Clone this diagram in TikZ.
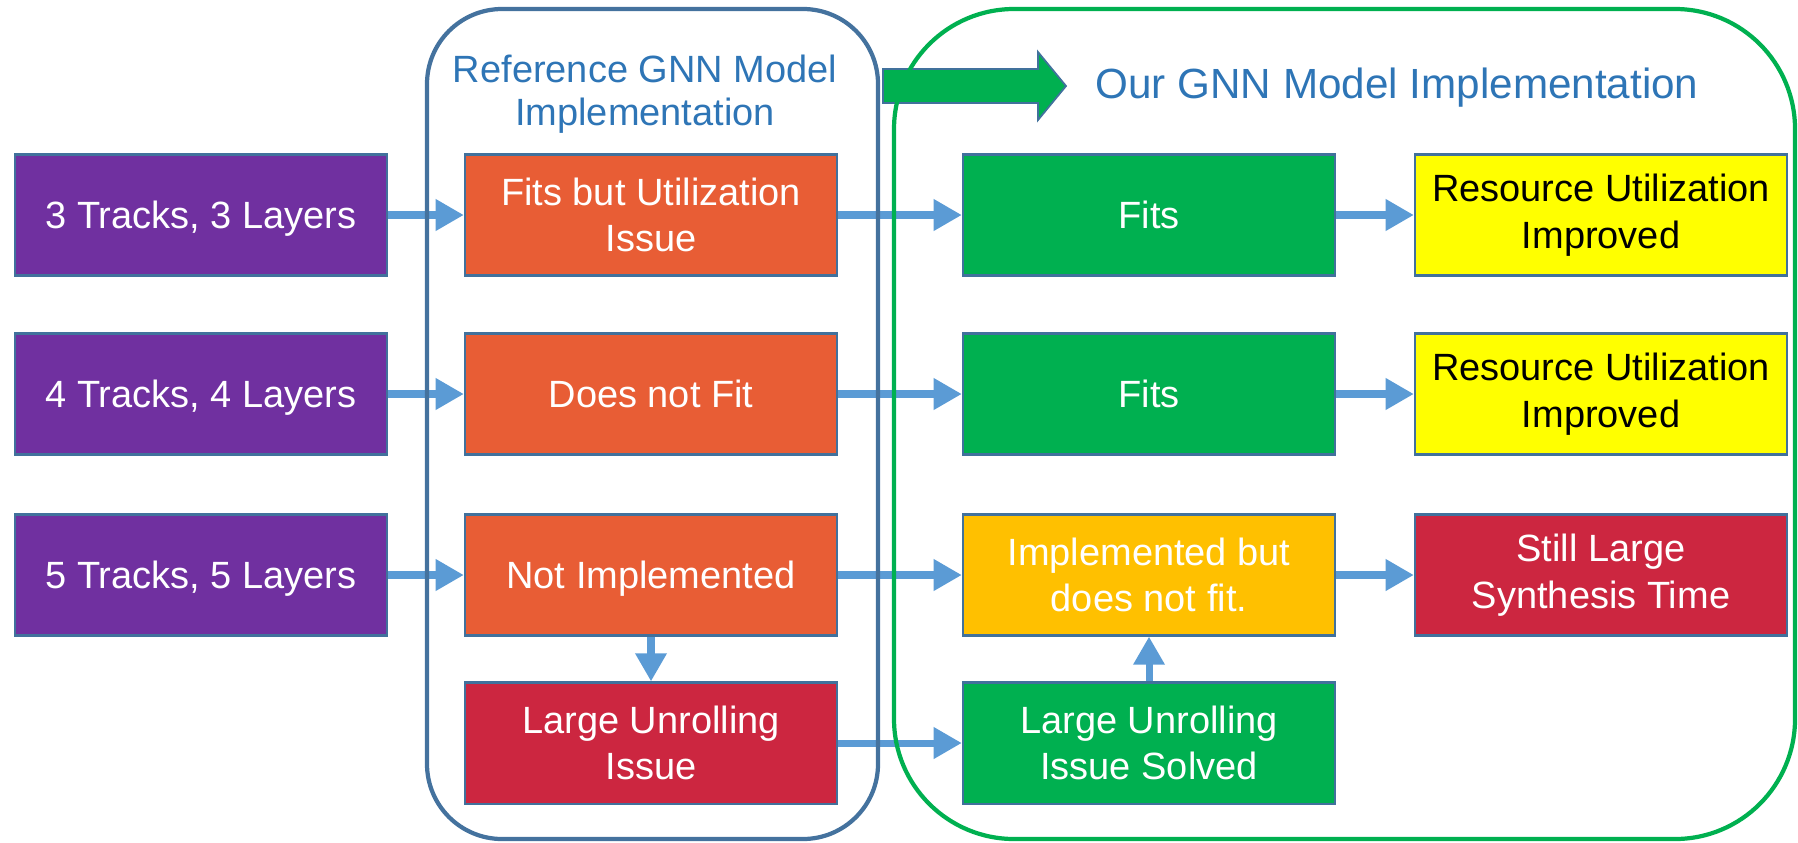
\documentclass[tikz,border=0pt]{standalone}
\usepackage{fontspec}
\setmainfont{Liberation Sans}
\usetikzlibrary{arrows.meta,positioning}
\definecolor{purp}{HTML}{7030A0}
\definecolor{orng}{HTML}{E85D35}
\definecolor{grn}{HTML}{00B050}
\definecolor{amber}{HTML}{FFC000}
\definecolor{yel}{HTML}{FFFF00}
\definecolor{crim}{HTML}{CC2640}
\definecolor{boxline}{HTML}{41719C}
\definecolor{flowblue}{HTML}{5B9BD5}
\definecolor{refblue}{HTML}{44729E}
\definecolor{titleblue}{HTML}{2E75B6}

\begin{document}
\begin{tikzpicture}[x=0.01cm, y=-0.01cm,
    every node/.style={draw=boxline, line width=0.6pt, minimum width=3.72cm, minimum height=1.21cm, inner sep=0pt,
        align=center, text=white, font=\fontsize{10.8}{13.2}\selectfont},
    oneline/.style={text depth=0pt},
    flow/.style={draw=flowblue, line width=2pt, -{Triangle[length=8pt, width=8.5pt]}},
    title/.style={draw=none, text=titleblue, minimum width=0pt, minimum height=0pt}]
    \useasboundingbox (0,0) rectangle (1798,842);

    \node[fill=purp, oneline] (t3) at (201,215) {3 Tracks, 3 Layers};
    \node[fill=purp, oneline] (t4) at (201,394) {4 Tracks, 4 Layers};
    \node[fill=purp, oneline] (t5) at (201,575) {5 Tracks, 5 Layers};

    \node[fill=orng] (ref3) at (651,215) {Fits but Utilization\\Issue};
    \node[fill=orng, oneline] (ref4) at (651,394) {Does not Fit};
    \node[fill=orng, oneline] (ref5) at (651,575) {Not Implemented};
    \node[fill=crim] (unroll) at (651,743) {Large Unrolling\\Issue};

    \node[fill=grn, oneline] (our3) at (1149,215) {Fits};
    \node[fill=grn, oneline] (our4) at (1149,394) {Fits};
    \node[fill=amber] (our5) at (1149,575) {Implemented but\\does not fit.};
    \node[fill=grn] (solved) at (1149,743) {Large Unrolling\\Issue Solved};

    \node[fill=yel, text=black] (res3) at (1601,215) {Resource Utilization\\Improved};
    \node[fill=yel, text=black] (res4) at (1601,394) {Resource Utilization\\Improved};
    \node[fill=crim] (res5) at (1601,575) {Still Large\\Synthesis Time};

    \draw[flow] (t3) -- (ref3);
    \draw[flow] (t4) -- (ref4);
    \draw[flow] (t5) -- (ref5);
    \draw[flow] (ref3) -- (our3);
    \draw[flow] (ref4) -- (our4);
    \draw[flow] (ref5) -- (our5);
    \draw[flow] (unroll) -- (solved);
    \draw[flow] (ref5) -- (unroll);
    \draw[flow] (solved) -- (our5);
    \draw[flow] (our3) -- (res3);
    \draw[flow] (our4) -- (res4);
    \draw[flow] (our5) -- (res5);

    % big arrow between the two frames
    \draw[fill=grn, draw=boxline, line width=0.5pt] (883,69) -- (1038,69) -- (1038,52) -- (1066,86)
        -- (1038,120) -- (1038,103) -- (883,103) -- cycle;

    % frames
    \draw[refblue, line width=1.2pt, rounded corners=0.75cm] (427,9) rectangle (878,839);
    \draw[grn, line width=1.2pt, rounded corners=1.2cm] (894,9) rectangle (1795,839);

    \node[title, font=\fontsize{10.8}{12.2}\selectfont] (reftitle) at (645,94) {Reference GNN Model\\Implementation};
    \node[title, font=\fontsize{12}{14}\selectfont] (ourtitle) at (1397,88) {Our GNN Model Implementation};
\end{tikzpicture}
\end{document}
